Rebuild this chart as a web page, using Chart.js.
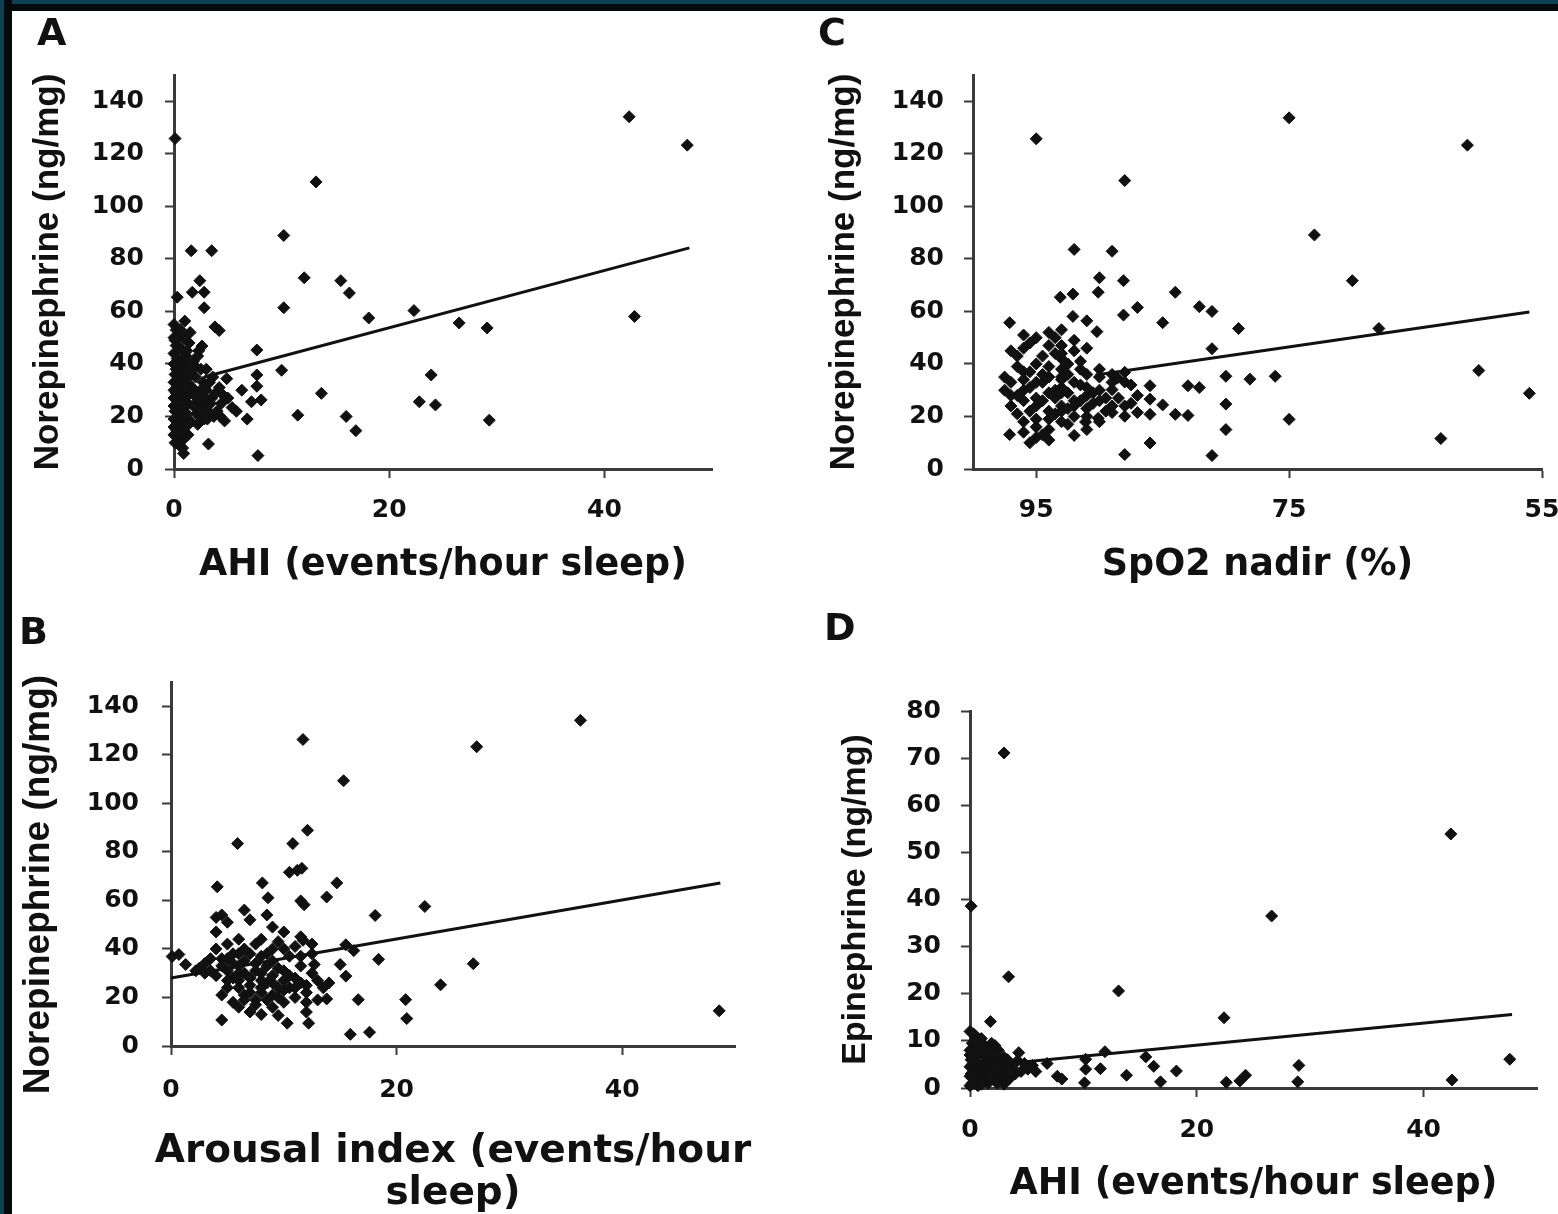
<!DOCTYPE html>
<html>
<head>
<meta charset="utf-8">
<script src="https://cdn.jsdelivr.net/npm/chart.js@4.4.1/dist/chart.umd.min.js"></script>
<style>
html, body { margin: 0; padding: 0; background: #fff; overflow: hidden; }
#wrap { position: relative; width: 1558px; height: 1214px; overflow: hidden; background: #fff; }
canvas { position: absolute; }
.lbl { position: absolute; font: bold 38px "DejaVu Sans"; line-height: 38px; color: #111; }
.bar-top { position: absolute; left: 0; top: 0; width: 1558px; height: 11px; background: linear-gradient(#0c4153 0 4px, #04090c 4px 11px); }
.bar-left { position: absolute; left: 0; top: 0; width: 12px; height: 1214px; background: linear-gradient(90deg, #0c4153 0 4px, #04090c 4px 12px); }
</style>
</head>
<body>
<div id="wrap">
  <canvas id="chartA" width="780" height="600" style="left:0;top:0"></canvas>
  <canvas id="chartC" width="800" height="600" style="left:780px;top:0"></canvas>
  <canvas id="chartB" width="780" height="614" style="left:0;top:600px"></canvas>
  <canvas id="chartD" width="800" height="614" style="left:780px;top:600px"></canvas>
  <div class="lbl" style="left:37px;top:13px">A</div>
  <div class="lbl" style="left:818px;top:13px">C</div>
  <div class="lbl" style="left:19px;top:612px">B</div>
  <div class="lbl" style="left:824px;top:608px">D</div>
  <div class="bar-top"></div>
  <div class="bar-left"></div>
</div>
<script>
// tick labels
const norepiTicks = [0, 20, 40, 60, 80, 100, 120, 140];
const epiTicks = [0, 10, 20, 30, 40, 50, 60, 70, 80];
const eventTicks = [0, 20, 40];
const spo2Ticks = [95, 75, 55];

// A: AHI vs norepinephrine
const ahiNorepi = [
  [0.1,125.8],[42.3,134.1],[47.7,123.3],[13.2,109.3],[10.2,88.9],[1.6,83.1],[3.5,83.1],[2.4,71.7],
  [1.7,67.3],[2.8,67.3],[2.8,61.4],[12.1,72.8],[15.5,71.7],[16.3,67.0],[10.2,61.4],[18.1,57.5],
  [22.3,60.3],[26.5,55.6],[29.1,53.7],[42.8,58.1],[0.3,65.4],[1.0,56.3],[3.8,54.1],[4.2,52.7],
  [2.6,46.8],[7.7,45.3],[10.0,37.6],[7.7,35.8],[7.7,31.5],[4.9,34.4],[7.2,25.6],[8.1,26.3],
  [5.4,23.4],[6.8,19.0],[4.7,18.3],[11.5,20.5],[13.7,28.8],[16.0,20.0],[16.9,14.6],[23.9,35.8],
  [22.8,25.6],[24.3,24.4],[29.3,18.6],[3.2,9.5],[7.8,5.1],[0.9,5.9],
  [0,55],[0.2,53],[0.5,51],[0.1,49],[0.4,47],[0.8,45],[0,44],[0.3,42],[0.6,41],[1.1,43],
  [0,40],[0.2,38],[0.5,37],[0.9,39],[0.1,36],[0.3,34],[0.7,35],[1.2,33],[0,33],[0.4,31],
  [0.8,30],[0.2,29],[0.6,28],[1.0,27],[0,27],[0.3,26],[0.5,24],[0.9,23],[0.1,22],[0.4,21],
  [0.7,20],[0,19],[0.3,18],[0.6,17],[1.1,16],[0.2,15],[0.5,14],[0,13],[0.3,12],[0.8,11],
  [0.1,10],[0.5,9],[1.2,45],[1.3,38],[1.5,52],[1.4,29],[1.3,13],
  [1.8,41],[2.2,43],[2.5,38],[2.0,35],[2.7,33],[3.0,30],[1.9,28],[2.3,26],[2.6,24],[3.2,22],
  [2.1,21],[2.8,19],[3.5,27],[3.9,29],[4.2,31],[3.3,33],[1.7,31],[2.4,29],[3.7,20],[4.4,25],
  [5.0,27],[4.0,22],[1.6,18],[2.0,24],[5.8,22],[6.3,30],[3.0,38],[2.3,45],
  [0.6,53],[0.9,50],[0.2,47],[1.0,35],[0.5,32],[1.3,25],[0.9,19],[0.4,16],[0.7,13],[1.2,21],
  [1.5,40],[1.6,36],[1.8,24],[2.2,17],[2.5,30],[3.4,25],[3.6,35],[2.9,27],[4.6,28],[0.8,8],
  [0,30],[0,24],[0,16],[0,50],[1.4,48],[1.1,31],[2.0,39],[2.6,21],[3.1,19],[4.3,20]
];
const fitA = [[2.8, 35.0], [47.9, 84.2]];

// C: SpO2 nadir vs norepinephrine
const spo2Norepi = [
  [95.0,125.7],[75.0,133.7],[60.9,123.3],[88.0,109.8],[73.0,89.1],[92.0,83.6],[89.0,82.9],[70.0,71.7],
  [90.0,72.8],[88.1,71.7],[93.1,65.4],[92.1,66.6],[90.1,67.3],[84.0,67.3],[87.0,61.5],[88.1,58.6],
  [82.1,61.8],[81.1,60.0],[85.0,55.7],[79.0,53.5],[67.9,53.5],[97.1,55.7],[92.1,58.1],[91.0,56.4],
  [90.2,52.3],[81.1,45.8],[80.0,35.3],[78.1,34.2],[76.1,35.3],[80.0,24.7],[80.0,15.0],[75.0,18.9],
  [81.1,5.1],[88.0,5.5],[86.0,9.9],[92.0,12.8],[97.1,13.1],[60.0,37.5],[56.0,28.8],[63.0,11.6],
  [83.0,31.7],[82.1,31.0],[84.0,20.8],[83.0,20.4],[85.0,24.4],[86.0,26.6],[86.0,31.7],[87.0,21.5],
  [88.0,20.1],[86.0,20.8],[89.0,21.5],[90.1,19.3],[91.1,17.9],[88.0,33.1],[88.0,36.8],[89.0,30.2],
  [88.6,34.6],
  [97,45],[96.5,43],[95.5,48],[96,51],[94,52],[93.5,50],[95,40],[96,37],[97.5,35],[97,33],
  [96,30],[95,33],[94,35],[93,38],[92.5,40],[93.5,44],[94,47],[93,42],[92,45],[91.5,38],
  [91,36],[92,33],[93,31],[94,29],[95,27],[96,26],[97,24],[96.5,21],[96,18],[95,16],
  [94,22],[93,24],[92,26],[91,28],[90,30],[90.5,25],[92,20],[93,18],[94,15],[95,12],
  [95.5,10],[94.5,13],[91,23],[89.5,27],[89,33],[90,35],[91.5,32],[92.5,29],[95,24],[96,34],
  [97,28],[95.5,37],[94,39],[93,34],[92,24],[91,15],
  [93,53],[93,47],[93,44],[93,35],[93,29],[93,22],[89,36],[87.5,32],[90.5,29],[91.5,26],
  [88.5,27],[87.5,25],[89.5,22],[91,20],[90,18],
  [96.5,39],[95.5,31],[94.5,33],[94.5,26],[95.5,22],[96.5,28],[94,19],[93.5,27],[92.5,36],[91.5,41],
  [92,49],[94.5,43],[96,46],[95,50],[93.5,21],[92.5,17],[94,11],[96,14],[95,19],[97.5,30],
  [91,31],[90,26],[89,24],[88,24],[87,28],[92.5,23],[93.5,30],[90,38],[91,46],[94.5,36]
];
const fitC = [[90.3, 35.8], [56.0, 59.8]];

// B: arousal index vs norepinephrine
const arousalNorepi = [
  [11.7,126.3],[36.3,134.2],[27.1,123.3],[15.3,109.3],[12.1,88.9],[5.9,83.4],[10.8,83.4],[11.2,72.4],
  [10.5,71.6],[11.6,73.2],[8.1,67.2],[14.7,67.2],[4.1,65.6],[11.5,59.8],[11.8,58.2],[13.8,61.4],
  [22.5,57.5],[18.1,53.8],[8.6,61.1],[48.6,14.5],[26.8,33.9],[23.9,25.2],[20.8,19.1],[20.9,11.3],
  [18.4,35.7],[16.6,19.1],[15.9,4.8],[17.6,5.7],[13.8,19.4],[12.2,9.4],[9.5,12.6],[10.3,9.4],
  [4.5,10.7],[15.5,41.7],[16.2,39.3],[15.0,33.6],[15.5,28.8],[12.7,33.6],[0.1,36.9],[0.7,37.7],
  [1.3,33.6],[11.7,43.6],[2.2,31],[3,30],
  [4,53],[4.5,54],[5,51],[4,47],[6.5,56],[7,52],[8.5,54],[9,49],[10,47],[8,44],
  [6,44],[5,42],[4,40],[3.5,36],[3,34],[2.5,32],[4.5,36],[5.5,38],[6.5,40],[7.5,42],
  [9.5,43],[11,41],[12.5,38],[10.5,37],[9,35],[7.5,34],[6,33],[5,31],[4,29],[5,24],
  [4.5,21],[5.5,18],[6,16],[7,14],[7.5,19],[8,22],[8.5,26],[9,29],[10,31],[11,28],
  [12,25],[13,27],[12,22],[11,20],[10,18],[9,16],[8,13],[6.5,21],[7,25],[6,27],
  [8,30],[9.5,24],[10.5,24],[11.5,33],[12.5,30],[13.5,24],[6.5,30],[5.5,28],[7,38],[8.5,38],
  [10,40],[11.5,45],
  [4.5,33],[5.5,34],[6.5,35],[7.5,31],[8.5,33],[9.5,32],[10.5,29],[11.5,26],[6,24],[7,22],
  [8,24],[9,21],[10,23],[11,24],[12,18],[6.5,19],[7.5,17],[8.5,19],[9.5,20],[5,27],
  [6,30],[7,28],[8,27],[9,26],[10,27],[11.5,37],[12.5,42],[9,40],[8,37],[6,38],
  [5,36],[12,14],[13,19],[14,26],[3.5,31]
];
const fitB = [[0, 28.0], [48.7, 67.2]];

// D: AHI vs epinephrine
const ahiEpi = [
  [3.0,71.1],[42.4,53.9],[26.6,36.5],[0.1,38.6],[3.4,23.6],[13.1,20.6],[22.4,14.9],[1.8,14.1],
  [47.6,6.1],[42.5,1.7],[29.0,4.8],[28.9,1.3],[24.3,2.7],[23.8,1.5],[22.6,1.2],[18.2,3.6],
  [16.8,1.3],[15.5,6.6],[16.2,4.6],[13.8,2.7],[11.9,7.7],[11.5,4.1],[10.2,6.1],[10.2,4.0],
  [10.1,1.1],[6.8,5.2],[7.7,2.5],[8.1,1.9],[4.3,7.5],[5.1,4.0],[5.5,4.8],
  [0,12],[0.5,11],[1,10.5],[0.2,9.5],[0.8,9],[1.5,8.5],[0,8],[0.4,7.5],[1.2,7],[2,7.5],
  [2.5,8],[3,6.5],[0.1,6],[0.6,5.5],[1.1,5],[1.7,6],[2.3,5.5],[2.8,4.5],[3.4,5],[3.8,4],
  [0,4.5],[0.3,3.5],[0.9,3],[1.4,4],[2,3.5],[2.6,2.5],[3.2,3],[0,2.5],[0.5,2],[1,1.5],
  [1.6,1],[2.2,2],[0.2,1],[0.7,0.5],[1.3,2.5],[2.9,1.5],[3.5,2],[4,3],[0,0.5],[1.9,9.5],
  [0.4,10],[2.7,6],[1.5,2.5],
  [0.3,11.5],[0.7,10],[1.3,9],[1.8,8],[2.3,7],[0.5,6.5],[0.9,7.5],[1.5,5.5],[2,5],[2.6,4],
  [3.1,4],[3.6,3.5],[4.5,3.5],[4.8,5.2],[0.1,3],[0.6,4],[1.2,3.5],[1.8,2.5],[2.4,1],[3,0.8],
  [0,7],[0.2,5],[1.5,7.5],[2.2,9],[3.3,6],[4.2,5.8],[5.8,3.5],[0.4,1.8],[1,0.8],[2.7,2]
];
const fitD = [[2.9, 5.1], [47.8, 15.6]];

const ink = '#111';
const axisGrey = '#3a3a3a';

function toXY(list) {
  return list.map(p => ({ x: p[0], y: p[1] }));
}

// x title that may run wider than the plot (Chart.js squeezes its own title to the scale width)
const wideXTitle = {
  id: 'wideXTitle',
  afterDraw(chart, args, opts) {
    if (!opts.lines) return;
    const { ctx, chartArea } = chart;
    const cx = (chartArea.left + chartArea.right) / 2;
    ctx.save();
    ctx.font = 'bold ' + opts.size + "px 'DejaVu Sans'";
    ctx.fillStyle = ink;
    ctx.textAlign = 'center';
    ctx.textBaseline = 'alphabetic';
    opts.lines.forEach((t, i) => ctx.fillText(t, cx, chartArea.bottom + opts.gapTop + i * opts.lineGap));
    ctx.restore();
  }
};

function panel(id, o) {
  return new Chart(document.getElementById(id), {
    type: 'scatter',
    plugins: [wideXTitle],
    data: {
      datasets: [
        { data: toXY(o.fit), showLine: true, pointRadius: 0, borderColor: ink, borderWidth: 3, clip: false },
        { data: toXY(o.points), pointStyle: 'rectRot', pointRadius: 6, backgroundColor: ink,
          borderColor: ink, borderWidth: 1, clip: false }
      ]
    },
    options: {
      responsive: false,
      animation: false,
      events: [],
      layout: { padding: o.pad },
      plugins: {
        legend: { display: false },
        tooltip: { enabled: false },
        wideXTitle: o.wideTitle || {}
      },
      scales: {
        x: {
          type: 'linear', position: 'bottom', min: o.xMin, max: o.xMax, reverse: !!o.reverse,
          afterBuildTicks: s => { s.ticks = o.xTicks.map(v => ({ value: v })); },
          afterFit: s => { s.height = o.xH; },
          grid: { drawOnChartArea: false, tickLength: 9, tickWidth: 2, tickColor: axisGrey },
          border: { color: axisGrey, width: 3 },
          ticks: { padding: o.xTickPad, color: ink, maxRotation: 0, autoSkip: false,
                   font: { family: "'DejaVu Sans'", weight: 'bold', size: 25 } },
          title: { display: !!o.xTitle, text: o.xTitle, color: ink,
                   font: { family: "'DejaVu Sans'", weight: 'bold', size: o.xTitleSize, lineHeight: 1.2 },
                   padding: { top: 0, bottom: o.xTitlePad } }
        },
        y: {
          type: 'linear', position: 'left', min: 0, max: o.yMax,
          afterBuildTicks: s => { s.ticks = o.yTicks.map(v => ({ value: v })); },
          afterFit: s => { s.width = o.yW; },
          grid: { drawOnChartArea: false, tickLength: 9, tickWidth: 2, tickColor: axisGrey },
          border: { color: axisGrey, width: 3 },
          ticks: { padding: o.yTickPad, color: ink, autoSkip: false,
                   font: { family: "'DejaVu Sans'", weight: 'bold', size: 25 } },
          title: { display: true, text: o.yTitle, color: ink,
                   font: { family: "'Liberation Sans'", weight: 'bold', size: o.yTitleSize, lineHeight: 1.2 },
                   padding: { top: o.yTitlePad, bottom: 0 } }
        }
      }
    }
  });
}

panel('chartA', {
  points: ahiNorepi, fit: fitA,
  pad: { top: 75, right: 68, bottom: 0, left: 0 },
  xMin: 0, xMax: 50, xTicks: eventTicks, xH: 131, xTickPad: 17,
  xTitle: 'AHI (events/hour sleep)', xTitleSize: 36.5, xTitlePad: 13,
  yMax: 150, yTicks: norepiTicks, yW: 174, yTickPad: 21,
  yTitle: 'Norepinephrine (ng/mg)', yTitleSize: 35, yTitlePad: 27
});

panel('chartC', {
  points: spo2Norepi, fit: fitC,
  pad: { top: 75, right: 38, bottom: 0, left: 0 },
  xMin: 55, xMax: 100, reverse: true, xTicks: spo2Ticks, xH: 131, xTickPad: 17,
  xTitle: 'SpO2 nadir (%)', xTitleSize: 36.5, xTitlePad: 13,
  yMax: 150, yTicks: norepiTicks, yW: 193, yTickPad: 20,
  yTitle: 'Norepinephrine (ng/mg)', yTitleSize: 35, yTitlePad: 43
});

panel('chartB', {
  points: arousalNorepi, fit: fitB,
  pad: { top: 82, right: 45, bottom: 0, left: 0 },
  xMin: 0, xMax: 50, xTicks: eventTicks, xH: 168, xTickPad: 20,
  xTitle: '',
  wideTitle: { lines: ['Arousal index (events/hour', 'sleep)'], size: 39, gapTop: 116, lineGap: 42 },
  yMax: 150, yTicks: norepiTicks, yW: 171, yTickPad: 23,
  yTitle: 'Norepinephrine (ng/mg)    ', yTitleSize: 37, yTitlePad: 17
});

panel('chartD', {
  points: ahiEpi, fit: fitD,
  pad: { top: 111, right: 43, bottom: 0, left: 0 },
  xMin: 0, xMax: 50, xTicks: eventTicks, xH: 126, xTickPad: 18,
  xTitle: 'AHI (events/hour sleep)', xTitleSize: 36.5, xTitlePad: 8,
  yMax: 80, yTicks: epiTicks, yW: 190, yTickPad: 20,
  yTitle: 'Epinephrine (ng/mg)', yTitleSize: 34, yTitlePad: 55
});
</script>
</body>
</html>
